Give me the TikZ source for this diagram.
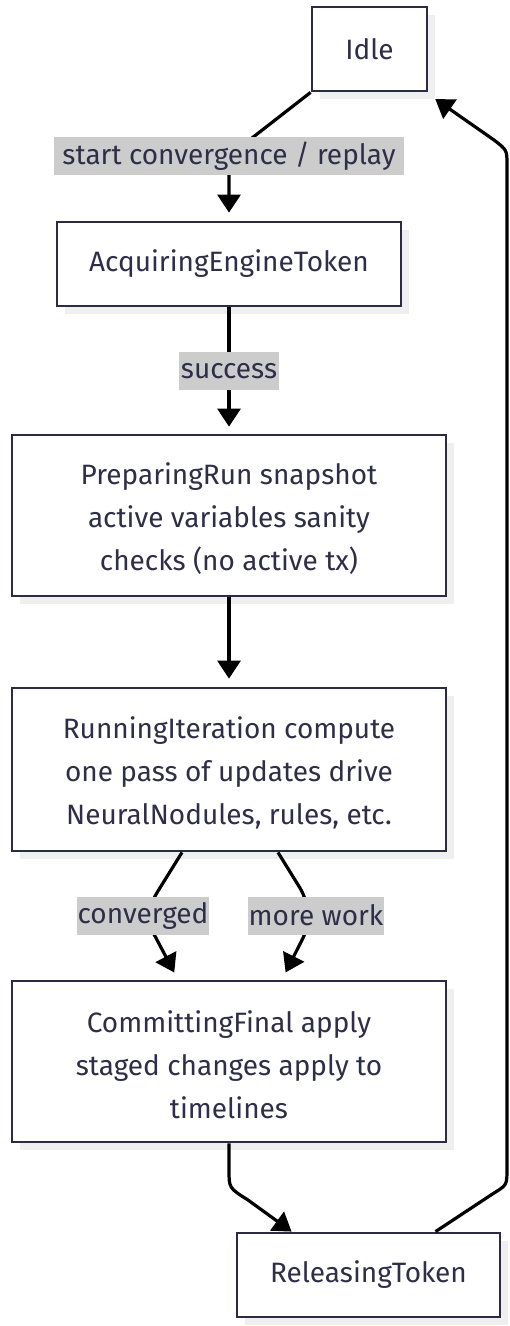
\documentclass[tikz,border=0pt]{standalone}
\usepackage{fontspec}
\setmainfont{Fira Sans}
\usetikzlibrary{arrows.meta,shadows,calc}
\definecolor{bordc}{HTML}{2B2B45}
\definecolor{txtc}{HTML}{2E2E48}
\definecolor{lblc}{HTML}{CCCCCC}
\definecolor{shdc}{HTML}{EFEFEF}
\newcommand{\lowstrut}{\rule{0pt}{29pt}}
\tikzset{
  box/.style={draw=bordc, line width=2.8pt, fill=white, inner sep=0pt, align=center,
    text=txtc, font=\fontsize{28}{43}\selectfont,
    general shadow={fill=shdc, shadow xshift=8pt, shadow yshift=-8pt}},
  lbl/.style={fill=lblc, text=txtc, inner xsep=1pt, inner ysep=0pt, minimum height=38pt,
    font=\fontsize{28}{43}\selectfont},
  edge/.style={line width=3.2pt, black, -{Triangle[length=18pt,width=23pt]}},
}
\begin{document}
\begin{tikzpicture}[x=1pt,y=-1pt]
\useasboundingbox[fill=white] (0,0) rectangle (509,1326);
\node[box, minimum width=115pt, minimum height=84pt] (idle) at (369.5,49) {Idle};
\node[box, minimum width=344pt, minimum height=84pt] (acq) at (229,264) {AcquiringEngineToken};
\node[box, minimum width=434pt, minimum height=161pt] (prep) at (229,515.5) {\lowstrut PreparingRun snapshot\\active variables sanity\\checks (no active tx)};
\node[box, minimum width=434pt, minimum height=163pt] (run) at (229,769.5) {\lowstrut RunningIteration compute\\one pass of updates drive\\NeuralNodules, rules, etc.};
\node[box, minimum width=434pt, minimum height=161pt] (commit) at (229,1061.5) {\lowstrut CommittingFinal apply\\staged changes apply to\\timelines};
\node[box, minimum width=263pt, minimum height=84pt] (rel) at (368.5,1275) {ReleasingToken};

% Idle -> Acquiring
\draw[edge, shorten >=8pt] (idle.south west) -- (252,138) .. controls (229,156) .. (229,178) -- (acq.north);
\node[lbl, minimum width=350pt] (l1) at (229,156) {start convergence / replay};
% Acquiring -> Preparing
\draw[edge, shorten >=7pt] (acq.south) -- (prep.north);
\node[lbl, minimum width=100pt] (l2) at (229,371) {success};
% Preparing -> Running
\draw[edge, shorten >=8pt] (prep.south) -- (run.north);
% Running -> Committing (converged)
\draw[edge, shorten >=8pt] ($(run.south)+(-47,0)$) -- (158,891) .. controls (146,911) and (146,920) .. (156,938) -- ($(commit.north)+(-51,0)$);
\node[lbl, minimum width=132pt] (l3) at (143,915.5) {converged};
% Running -> Committing (more work)
\draw[edge, shorten >=8pt] ($(run.south)+(49,0)$) -- (300,888) .. controls (310,905) and (310,925) .. (302,940) -- ($(commit.north)+(53,0)$);
\node[lbl, minimum width=136pt] (l4) at (316,915.5) {more work};
% Committing -> Releasing
\draw[edge] (commit.south) -- (229,1170) .. controls (229,1188) .. (248,1200) -- ($(rel.north west)+(56,0)$);
% Releasing -> Idle
\draw[edge, shorten >=1pt] ($(rel.north)+(67,0)$) -- (494,1193) .. controls (507,1185) .. (507,1168) -- (507,165) .. controls (507,150) .. (494,140) -- ($(idle.south east)+(6,6)$);
\end{tikzpicture}
\end{document}
